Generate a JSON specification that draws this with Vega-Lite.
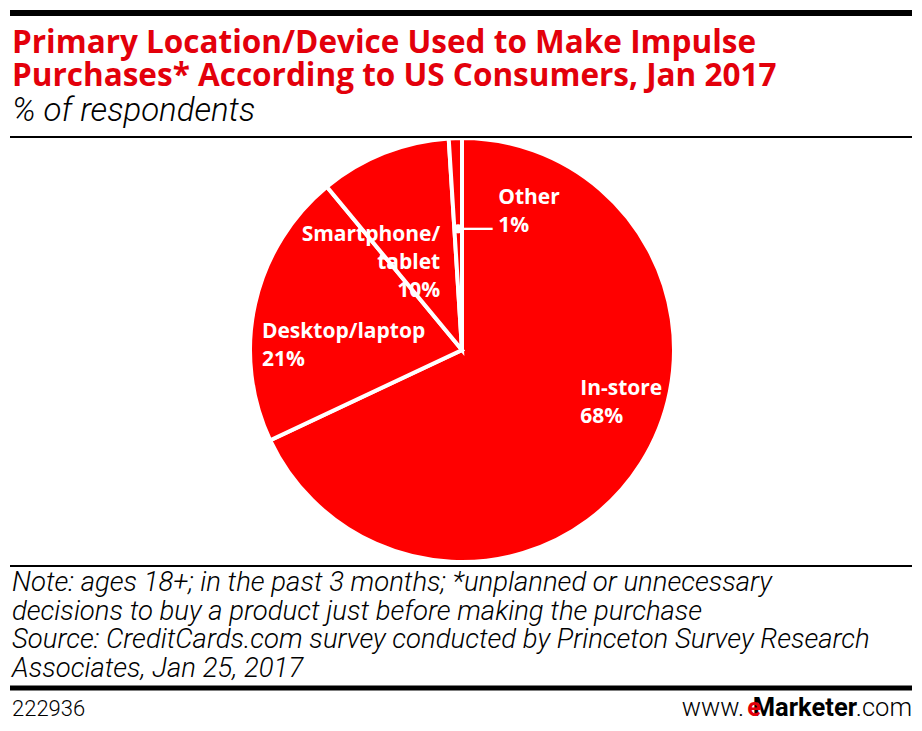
{
  "$schema": "https://vega.github.io/schema/vega-lite/v6.json",
  "width": 922,
  "height": 731,
  "padding": 0,
  "autosize": {"type": "fit", "contains": "padding"},
  "background": "white",
  "config": {"view": {"stroke": null}},
  "layer": [
    {
      "data": {
        "values": [
          {"category": "In-store", "pct": 68, "order": 1, "label": "In-store\n68%"},
          {"category": "Desktop/laptop", "pct": 21, "order": 2, "label": "Desktop/laptop\n21%"},
          {"category": "Smartphone/tablet", "pct": 10, "order": 3, "label": "Smartphone/\ntablet\n10%"},
          {"category": "Other", "pct": 1, "order": 4, "label": "Other\n1%"}
        ]
      },
      "encoding": {
        "theta": {"field": "pct", "type": "quantitative", "stack": true, "scale": {"domain": [0, 100]}},
        "order": {"field": "order", "type": "quantitative"},
        "detail": {"field": "category", "type": "nominal"}
      },
      "layer": [
        {
          "mark": {"type": "arc", "radius": 212, "x": 462, "y": 350, "color": "#ff0000", "stroke": "white", "strokeWidth": 4}
        },
        {
          "mark": {"type": "text", "radius": 140, "x": 462, "y": 350, "align": "left", "baseline": "middle", "dy": -36, "font": "Open Sans", "fontWeight": "bold", "fontSize": 21, "lineHeight": 28, "lineBreak": "\n", "color": "white"},
          "encoding": {"text": {"condition": {"test": "datum.category === 'In-store'", "field": "label"}, "value": ""}}
        },
        {
          "mark": {"type": "text", "radius": 120, "x": 462, "y": 350, "align": "left", "baseline": "middle", "dx": -83, "dy": 8, "font": "Open Sans", "fontWeight": "bold", "fontSize": 21, "lineHeight": 28, "lineBreak": "\n", "color": "white"},
          "encoding": {"text": {"condition": {"test": "datum.category === 'Desktop/laptop'", "field": "label"}, "value": ""}}
        },
        {
          "mark": {"type": "text", "radius": 100, "x": 462, "y": 350, "align": "right", "baseline": "middle", "dx": 15, "dy": -22, "font": "Open Sans", "fontWeight": "bold", "fontSize": 21, "lineHeight": 28, "lineBreak": "\n", "color": "white"},
          "encoding": {"text": {"condition": {"test": "datum.category === 'Smartphone/tablet'", "field": "label"}, "value": ""}}
        },
        {
          "mark": {"type": "text", "radius": 122, "x": 462, "y": 350, "align": "left", "baseline": "middle", "dx": 40, "dy": -30, "font": "Open Sans", "fontWeight": "bold", "fontSize": 21, "lineHeight": 28, "lineBreak": "\n", "color": "white"},
          "encoding": {"text": {"condition": {"test": "datum.category === 'Other'", "field": "label"}, "value": ""}}
        },
        {
          "mark": {"type": "text", "radius": 122, "x": 462, "y": 350, "align": "center", "baseline": "middle", "font": "DejaVu Sans", "fontSize": 12, "color": "white"},
          "encoding": {"text": {"condition": {"test": "datum.category === 'Other'", "value": "●"}, "value": ""}}
        },
        {
          "mark": {"type": "text", "radius": 122, "x": 462, "y": 350, "align": "left", "baseline": "middle", "dx": 4, "font": "DejaVu Sans", "fontSize": 32, "color": "white"},
          "encoding": {"text": {"condition": {"test": "datum.category === 'Other'", "value": "—"}, "value": ""}}
        }
      ]
    },
    {
      "data": {"values": [{}]},
      "mark": {"type": "rule", "strokeWidth": 6, "color": "black"},
      "encoding": {"x": {"value": 10}, "x2": {"value": 912}, "y": {"value": 13}}
    },
    {
      "data": {"values": [{}]},
      "mark": {"type": "rule", "strokeWidth": 2, "color": "black"},
      "encoding": {"x": {"value": 10}, "x2": {"value": 912}, "y": {"value": 137}}
    },
    {
      "data": {"values": [{}]},
      "mark": {"type": "rule", "strokeWidth": 2, "color": "black"},
      "encoding": {"x": {"value": 10}, "x2": {"value": 912}, "y": {"value": 566}}
    },
    {
      "data": {"values": [{}]},
      "mark": {"type": "rule", "strokeWidth": 5, "color": "black"},
      "encoding": {"x": {"value": 10}, "x2": {"value": 912}, "y": {"value": 688}}
    },
    {
      "data": {"values": [{}]},
      "mark": {"type": "text", "x": 12, "y": 53, "align": "left", "baseline": "alphabetic", "font": "Open Sans", "fontWeight": "bold", "fontSize": 31.5, "color": "#e3000b", "text": "Primary Location/Device Used to Make Impulse"},
      "encoding": {}
    },
    {
      "data": {"values": [{}]},
      "mark": {"type": "text", "x": 12, "y": 86, "align": "left", "baseline": "alphabetic", "font": "Open Sans", "fontWeight": "bold", "fontSize": 31.5, "color": "#e3000b", "text": "Purchases* According to US Consumers, Jan 2017"},
      "encoding": {}
    },
    {
      "data": {"values": [{}]},
      "mark": {"type": "text", "x": 12, "y": 121, "align": "left", "baseline": "alphabetic", "font": "Roboto", "fontStyle": "italic", "fontWeight": 300, "fontSize": 33, "color": "black", "text": "% of respondents"},
      "encoding": {}
    },
    {
      "data": {"values": [{}]},
      "mark": {"type": "text", "x": 12, "y": 591, "align": "left", "baseline": "alphabetic", "font": "Roboto", "fontStyle": "italic", "fontWeight": 300, "fontSize": 27.5, "lineHeight": 28.7, "color": "black",
        "text": ["Note: ages 18+; in the past 3 months; *unplanned or unnecessary", "decisions to buy a product just before making the purchase", "Source: CreditCards.com survey conducted by Princeton Survey Research", "Associates, Jan 25, 2017"]},
      "encoding": {}
    },
    {
      "data": {"values": [{}]},
      "mark": {"type": "text", "x": 12, "y": 716, "align": "left", "baseline": "alphabetic", "font": "Roboto", "fontWeight": 300, "fontSize": 22, "color": "black", "text": "222936"},
      "encoding": {}
    },
    {
      "data": {"values": [{}]},
      "mark": {"type": "text", "x": 912, "y": 716, "align": "right", "baseline": "alphabetic", "font": "Roboto", "fontWeight": 300, "fontSize": 25.5, "color": "black", "text": ".com"},
      "encoding": {}
    },
    {
      "data": {"values": [{}]},
      "mark": {"type": "text", "x": 857, "y": 716, "align": "right", "baseline": "alphabetic", "font": "Roboto", "fontWeight": "bold", "fontSize": 25.5, "color": "black", "text": "Marketer"},
      "encoding": {}
    },
    {
      "data": {"values": [{}]},
      "mark": {"type": "text", "x": 761, "y": 716, "align": "right", "baseline": "alphabetic", "font": "Roboto", "fontWeight": "bold", "fontSize": 25.5, "color": "#e3000b", "text": "e"},
      "encoding": {}
    },
    {
      "data": {"values": [{}]},
      "mark": {"type": "text", "x": 744, "y": 716, "align": "right", "baseline": "alphabetic", "font": "Roboto", "fontWeight": 300, "fontSize": 25.5, "color": "black", "text": "www."},
      "encoding": {}
    }
  ]
}
